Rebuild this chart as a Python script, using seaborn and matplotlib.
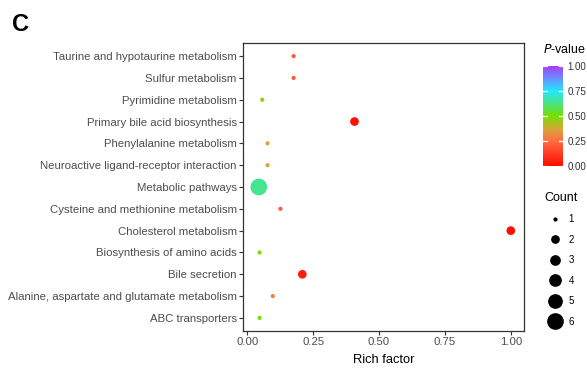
import numpy as np
import pandas as pd
import matplotlib
matplotlib.use("Agg")
import matplotlib.pyplot as plt
import seaborn as sns
from matplotlib.colors import LinearSegmentedColormap, Normalize
from matplotlib.lines import Line2D

pathways = [
    "Taurine and hypotaurine metabolism",
    "Sulfur metabolism",
    "Pyrimidine metabolism",
    "Primary bile acid biosynthesis",
    "Phenylalanine metabolism",
    "Neuroactive ligand-receptor interaction",
    "Metabolic pathways",
    "Cysteine and methionine metabolism",
    "Cholesterol metabolism",
    "Biosynthesis of amino acids",
    "Bile secretion",
    "Alanine, aspartate and glutamate metabolism",
    "ABC transporters",
]
rich_factor = [0.176, 0.176, 0.057, 0.407, 0.077, 0.077, 0.044, 0.126, 1.0, 0.047, 0.209, 0.097, 0.047]
p_values = [0.20, 0.20, 0.47, 0.02, 0.36, 0.36, 0.64, 0.21, 0.01, 0.50, 0.05, 0.29, 0.50]
counts = [1, 1, 1, 2, 1, 1, 6, 1, 2, 1, 2, 1, 1]
count_levels = [1, 2, 3, 4, 5, 6]
diam_px = [4.2, 8.7, 10.7, 12.7, 14.7, 16.7]
x_ticks = [0.0, 0.25, 0.5, 0.75, 1.0]
cbar_ticks = [0.0, 0.25, 0.5, 0.75, 1.0]

df = pd.DataFrame({"Pathway": pathways, "RichFactor": rich_factor,
                   "Pvalue": p_values, "Count": counts})

cmap = LinearSegmentedColormap.from_list(
    "pv", [(0.0, "#FF0A00"), (0.25, "#FF6E42"), (0.37, "#D8A63A"), (0.5, "#74E000"),
           (0.75, "#22E8FF"), (1.0, "#A63CFF")])
norm = Normalize(0, 1)

plt.rcParams["font.family"] = ["Liberation Sans", "DejaVu Sans"]
fig = plt.figure(figsize=(5.87, 3.75), dpi=100)
W, H = 587, 375
ax = fig.add_axes([243 / W, 1 - 331 / H, (524 - 243) / W, (331 - 43) / H])

sizes = {c: (d * 0.72) ** 2 for c, d in zip(count_levels, diam_px)}
sns.scatterplot(data=df, x="RichFactor", y="Pathway", hue="Pvalue", size="Count",
                palette=cmap, hue_norm=norm, sizes=sizes, linewidth=0,
                legend=False, ax=ax, zorder=3)

ax.set_xlim(-0.016, 1.05)
ax.set_ylim(len(pathways) - 0.4, -0.6)
ax.set_xticks(x_ticks)
ax.set_xticklabels([f"{t:.2f}" for t in x_ticks])
ax.set_xlabel("Rich factor", fontsize=9.3, color="black", labelpad=5)
ax.set_ylabel("")
ax.tick_params(axis="both", labelsize=8.2, colors="#4D4D4D", length=3, width=0.8, pad=1.5)
ax.tick_params(axis="both", color="#333333")
for s in ax.spines.values():
    s.set_color("#333333")
    s.set_linewidth(0.9)
ax.grid(False)

fig.text(12 / W, 1 - 31 / H, "C", fontsize=17, fontweight="bold")

# colorbar
cax = fig.add_axes([543 / W, 1 - 166 / H, 20 / W, (166 - 66) / H])
sm = matplotlib.cm.ScalarMappable(norm=norm, cmap=cmap)
cb = fig.colorbar(sm, cax=cax, ticks=cbar_ticks)
cb.outline.set_visible(False)
cb.ax.tick_params(length=0, labelsize=7, colors="#333333", pad=3)
cb.ax.set_yticklabels([f"{t:.2f}" for t in cbar_ticks])
for t in cbar_ticks:
    cax.plot([0, 0.22], [t, t], color="white", lw=0.9, transform=cax.get_yaxis_transform())
    cax.plot([0.78, 1], [t, t], color="white", lw=0.9, transform=cax.get_yaxis_transform())
fig.text(543 / W, 1 - 53 / H, r"$\it{P}$-value", fontsize=9)

# size legend
handles = [Line2D([0], [0], marker="o", linestyle="", markerfacecolor="black",
                  markeredgecolor="black", markersize=d * 0.72, markeredgewidth=0)
           for d in diam_px]
leg = fig.legend(handles, [str(c) for c in count_levels], title="Count",
                 loc="upper left", bbox_to_anchor=(538 / W, 1 - 185 / H),
                 frameon=False, fontsize=7, title_fontsize=9,
                 labelspacing=1.08, handletextpad=0.45, borderpad=0.2)
leg._legend_box.align = "left"

fig.savefig("out.png", dpi=100)
